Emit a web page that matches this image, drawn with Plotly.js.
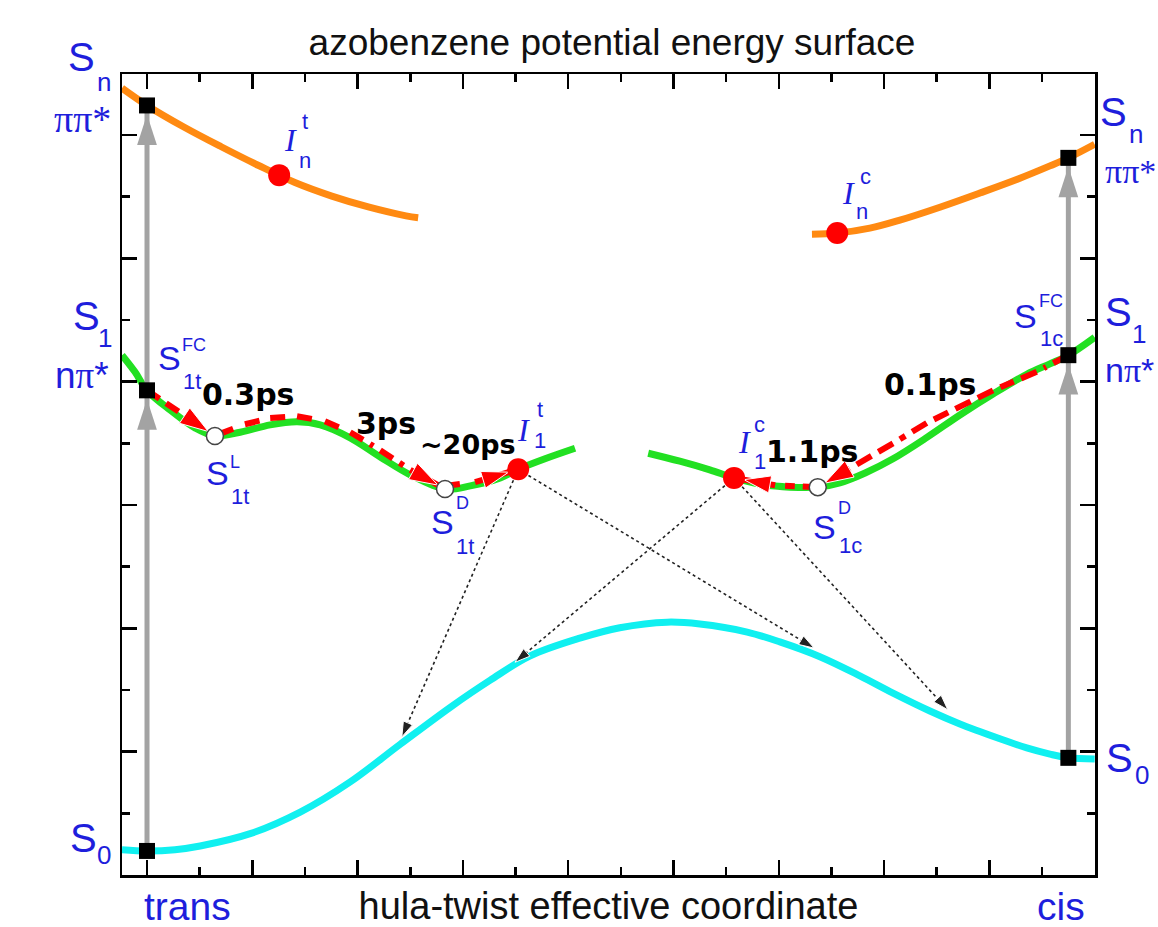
<!DOCTYPE html>
<html><head><meta charset="utf-8">
<script src="https://cdn.plot.ly/plotly-3.0.1.min.js"></script>
<style>html,body{margin:0;padding:0;background:#fff;}#chart{width:1158px;height:927px;}</style>
</head><body><div id="chart"></div>
<script>
// ---------- data (hula-twist coordinate units, energy in minor-tick units) ----------
const s0X = [-0.475, 0, 0.53, 1.01, 1.96, 2.91, 3.86, 4.81, 5.76, 6.52, 7.27, 8.22, 8.98, 9.88, 10.50, 11.40, 12.02, 12.78, 13.54, 14.17, 14.87, 15.44, 16.20, 16.71, 17.15, 17.50, 18.0];
const s0Y = [0.41, 0.39, 0.41, 0.47, 0.67, 1.02, 1.51, 2.12, 2.72, 3.16, 3.55, 3.84, 4.01, 4.10, 4.07, 3.94, 3.78, 3.54, 3.23, 2.95, 2.66, 2.45, 2.21, 2.06, 1.96, 1.90, 1.88];

const s1TransX = [-0.475, -0.23, 0, 0.44, 0.91, 1.29, 1.77, 2.34, 2.85, 3.29, 3.86, 4.43, 5.00, 5.66, 6.14, 6.71, 7.05, 7.56, 8.13];
const s1TransY = [8.43, 8.16, 7.86, 7.54, 7.25, 7.12, 7.18, 7.30, 7.35, 7.30, 7.09, 6.78, 6.49, 6.26, 6.31, 6.44, 6.58, 6.75, 6.92];

const s1CisX = [9.52, 10.12, 10.69, 11.15, 11.64, 12.21, 12.74, 13.16, 13.64, 14.17, 14.82, 15.44, 16.07, 16.71, 17.15, 17.50, 18.0];
const s1CisY = [6.84, 6.71, 6.57, 6.44, 6.34, 6.29, 6.29, 6.36, 6.52, 6.75, 7.10, 7.46, 7.80, 8.12, 8.29, 8.43, 8.72];

const snTransX = [-0.475, 0, 0.70, 1.41, 2.11, 2.81, 3.51, 4.22, 4.92, 5.15];
const snTransY = [12.76, 12.48, 12.13, 11.81, 11.51, 11.23, 11.01, 10.83, 10.69, 10.66];

const snCisX = [12.63, 13.11, 13.73, 14.30, 15.06, 15.82, 16.58, 17.15, 17.50, 18.0];
const snCisY = [10.39, 10.41, 10.49, 10.62, 10.83, 11.06, 11.30, 11.50, 11.63, 11.85];

// Franck-Condon points (black squares)
const fcX = [0, 0, 0, 17.5, 17.5, 17.5];
const fcY = [0.39, 7.86, 12.48, 1.90, 8.43, 11.63];
// conical intersections (red dots): I_n^t, I_n^c, I_1^t, I_1^c
const ciX = [2.51, 13.11, 7.05, 11.15];
const ciY = [11.35, 10.41, 6.58, 6.44];
// local minima (open circles): S_1t^L, S_1t^D, S_1c^D
const minX = [1.29, 5.66, 12.74];
const minY = [7.12, 6.26, 6.29];

// red dashed relaxation paths
const path03X = [0, 1.29];            const path03Y = [7.86, 7.12];
const path3X  = [1.37, 1.86, 2.34, 2.85, 3.38, 3.86, 4.43, 5.00, 5.66];
const path3Y  = [7.15, 7.31, 7.41, 7.44, 7.36, 7.18, 6.89, 6.57, 6.26];
const path20X = [5.66, 6.23, 7.05];   const path20Y = [6.31, 6.37, 6.58];
const path01X = [17.5, 16.90, 16.07, 15.44, 14.81, 14.17, 13.54, 12.74];
const path01Y = [8.43, 8.16, 7.86, 7.59, 7.33, 7.00, 6.68, 6.29];
const path11X = [12.74, 11.93, 11.15]; const path11Y = [6.29, 6.32, 6.44];

// dotted decay arrows from I_1 to S0
const decayX = [[7.05, 4.84], [7.05, 12.67], [11.15, 6.99], [11.15, 15.21]];
const decayY = [[6.58, 2.24], [6.58, 3.68], [6.44, 3.45], [6.44, 2.68]];

const timeLabels = ['0.3ps', '3ps', '~20ps', '1.1ps', '0.1ps'];

// ---------- styling ----------
const BLUE = '#1e1edc';
const SANS = 'Liberation Sans, Arial, sans-serif';
const SERIF = 'Liberation Serif, Times New Roman, serif';
const RED = '#ff0000';

const traces = [];
function curve(x, y, color) {
  traces.push({x, y, mode:'lines', line:{color, width:7, shape:'spline', smoothing:1}, hoverinfo:'skip'});
}
curve(s0X, s0Y, '#10f0f0');
curve(snTransX, snTransY, '#ff8a12');
curve(snCisX, snCisY, '#ff8a12');
curve(s1TransX, s1TransY, '#22e022');
curve(s1CisX, s1CisY, '#22e022');

// gray vertical excitation arrows
const GRAY = '#a3a3a3';
traces.push({x:[fcX[0], fcX[2]], y:[fcY[0], fcY[2]], mode:'lines', line:{color:GRAY, width:5}, hoverinfo:'skip'});
traces.push({x:[fcX[3], fcX[5]], y:[fcY[3], fcY[5]], mode:'lines', line:{color:GRAY, width:5}, hoverinfo:'skip'});
traces.push({x:[fcX[1], fcX[2], fcX[4], fcX[5]], y:[fcY[1], fcY[2], fcY[4], fcY[5]], mode:'markers',
  marker:{symbol:'arrow', size:32, color:GRAY, opacity:1, angle:0, standoff:9}, hoverinfo:'skip'});

function arrowPath(x, y, color, width, dash, headSize, standoff) {
  const n = x.length;
  traces.push({x, y, mode:'lines+markers', line:{color, width, dash}, hoverinfo:'skip',
    marker:{symbol:x.map((_, i) => i === n - 1 ? 'arrow' : 'circle'),
            size:x.map((_, i) => i === n - 1 ? headSize : 0),
            opacity:1, color, angleref:'previous', standoff}});
}
arrowPath(path03X, path03Y, RED, 6, '15px,8px', 30, 8);
arrowPath(path3X, path3Y, RED, 6, '15px,8px', 30, 8);
arrowPath(path20X, path20Y, RED, 6, '15px,8px', 28, 10);
arrowPath(path01X, path01Y, RED, 6, '17px,8px', 30, 8);
arrowPath(path11X, path11Y, RED, 6, '15px,8px', 28, 10);
for (let i = 0; i < decayX.length; i++) arrowPath(decayX[i], decayY[i], '#222222', 1.6, 'dot', 16, 0);

traces.push({x:fcX, y:fcY, mode:'markers', marker:{symbol:'square', size:16, color:'#000'}, hoverinfo:'skip'});
traces.push({x:ciX, y:ciY, mode:'markers', marker:{symbol:'circle', size:22, color:RED}, hoverinfo:'skip'});
traces.push({x:minX, y:minY, mode:'markers', marker:{symbol:'circle', size:17, color:'#fff', line:{color:'#444', width:1.5}}, hoverinfo:'skip'});

// ---------- labels (pixel positions converted to paper) ----------
const PL = 122, PR = 1095, PT = 74, PB = 875;
function lab(px, py, text, size, family, color, extra) {
  return Object.assign({xref:'paper', yref:'paper', x:(px - PL) / (PR - PL), y:(PB - py) / (PB - PT),
    xanchor:'center', yanchor:'middle', showarrow:false, text,
    font:{family:family || SANS, size, color:color || BLUE}}, extra || {});
}
const PI_SPAN = t => '<span style="font-family:Liberation Serif">' + t + '</span>';
const ann = [
  // left state labels
  lab(81, 57, 'S', 40), lab(104, 82, 'n', 26),
  lab(82, 119, 'ππ*', 38, SERIF),
  lab(86, 316, 'S', 40), lab(105, 338, '1', 26),
  lab(82, 375, 'n' + PI_SPAN('π') + '*', 37),
  lab(83, 838, 'S', 40), lab(104, 855, '0', 26),
  // right state labels
  lab(1113, 112, 'S', 40), lab(1136, 134, 'n', 26),
  lab(1103, 172, 'ππ*', 34, SERIF, BLUE, {xanchor:'left'}),
  lab(1118, 312, 'S', 40), lab(1139, 334, '1', 26),
  lab(1103, 370, 'n' + PI_SPAN('π') + '*', 34, SANS, BLUE, {xanchor:'left'}),
  lab(1119, 758, 'S', 40), lab(1142, 775, '0', 26),
  // bottom
  lab(187, 906, 'trans', 39), lab(1061, 906, 'cis', 39),
  // S1t^FC
  lab(169, 358, 'S', 34), lab(194, 345, 'FC', 18), lab(192, 381, '1t', 22),
  // S1t^L
  lab(217, 473, 'S', 34), lab(235, 462, 'L', 18), lab(240, 497, '1t', 22),
  // S1t^D
  lab(442, 522, 'S', 34), lab(462, 503, 'D', 18), lab(465, 546, '1t', 22),
  // I1t
  lab(523, 430, '<i>I</i>', 32, SERIF), lab(540, 409, 't', 22), lab(540, 440, '1', 22),
  // I1c
  lab(744, 442, '<i>I</i>', 32, SERIF), lab(759, 425, 'c', 22), lab(760, 462, '1', 22),
  // S1c^D
  lab(824, 527, 'S', 34), lab(844, 508, 'D', 18), lab(850, 545, '1c', 22),
  // S1c^FC
  lab(1025, 316, 'S', 34), lab(1051, 301, 'FC', 18), lab(1051, 338, '1c', 22),
  // In^t, In^c
  lab(290, 140, '<i>I</i>', 32, SERIF), lab(305, 121, 't', 22), lab(305, 160, 'n', 22),
  lab(848, 193, '<i>I</i>', 32, SERIF), lab(865, 176, 'c', 22), lab(862, 212, 'n', 22),
];
const timePos = [[248, 394], [386, 424], [468, 444], [812, 451], [930, 385]];
const timeSize = [30, 30, 27, 30, 30];
timeLabels.forEach((t, i) => ann.push(lab(timePos[i][0], timePos[i][1], '<b>' + t + '</b>', timeSize[i], 'DejaVu Sans, sans-serif', '#000')));

const axisCommon = {showgrid:false, zeroline:false, showticklabels:false, showline:true, linecolor:'#000', linewidth:2.5,
  mirror:'ticks', ticks:'inside', ticklen:15, tickwidth:2.5, tickcolor:'#000', tick0:0, dtick:2,
  minor:{dtick:1, ticks:'inside', ticklen:8, tickwidth:2.5, tickcolor:'#000', showgrid:false}, fixedrange:true};

const layout = {
  width:1158, height:927, margin:{l:PL, r:1158 - PR, t:PT, b:927 - PB},
  paper_bgcolor:'#fff', plot_bgcolor:'#fff', showlegend:false,
  title:{text:'azobenzene potential energy surface', font:{family:SANS, size:37, color:'#111'},
         x:612 / 1158, xanchor:'center', y:1 - 42 / 927, yanchor:'middle'},
  xaxis:Object.assign({}, axisCommon, {range:[-0.475, 18.006],
    title:{text:'hula-twist effective coordinate', font:{family:SANS, size:38, color:'#111'}, standoff:21}}),
  yaxis:Object.assign({}, axisCommon, {range:[0, 12.99]}),
  annotations:ann
};
Plotly.newPlot('chart', traces, layout, {displayModeBar:false, staticPlot:true});
</script></body></html>
